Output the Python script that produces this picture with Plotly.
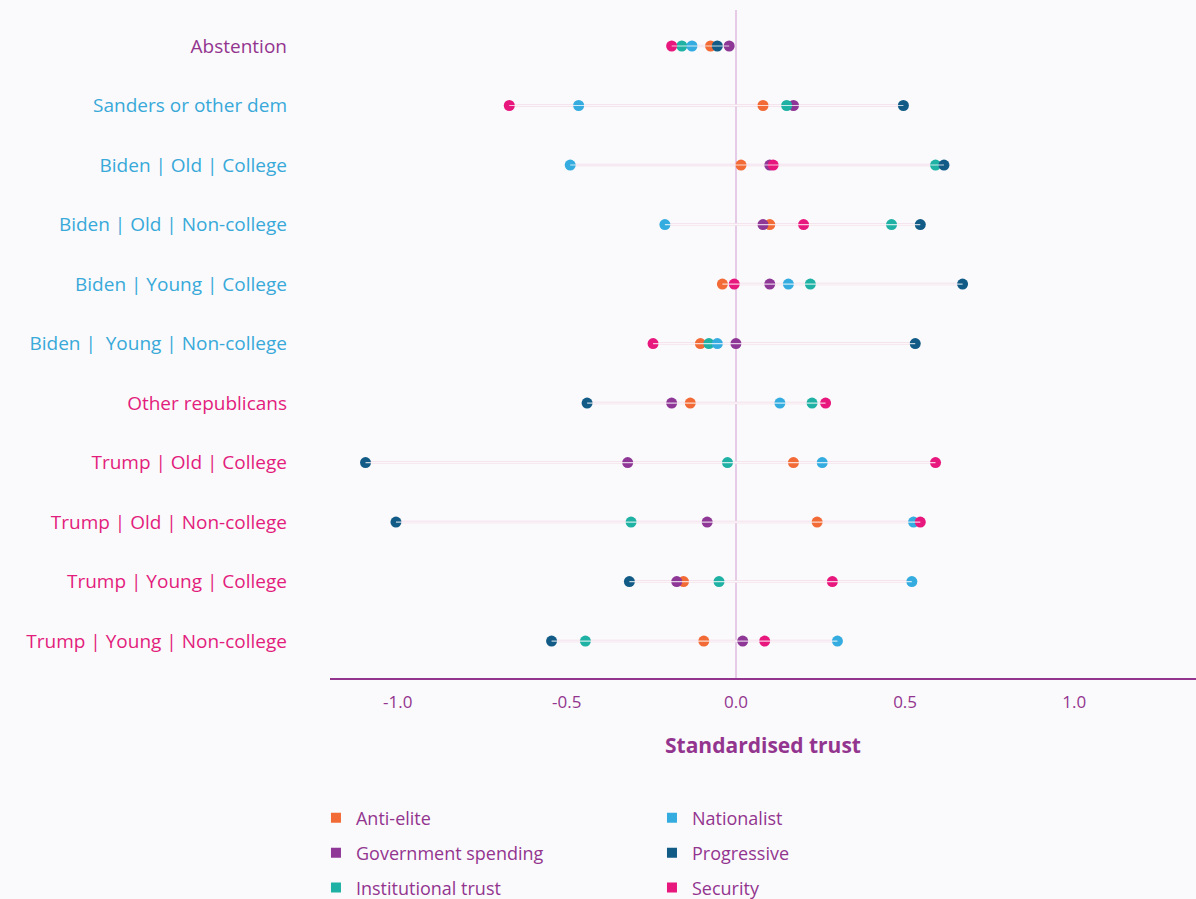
import plotly.graph_objects as go

# palette
ANTI_ELITE = "#f26a36"
GOV_SPEND = "#8e3796"
INST_TRUST = "#1fb1a4"
NATIONALIST = "#35acdf"
PROGRESSIVE = "#125b86"
SECURITY = "#e8177d"
LABEL_PURPLE = "#93358f"
LABEL_CYAN = "#38a9d9"
LABEL_MAGENTA = "#e31d7c"
BG = "#fafafc"
ZERO_LINE = "#e6cbe6"
CONNECTOR = "#f2dce8"

groups = [
    "Abstention",
    "Sanders or other dem",
    "Biden | Old | College",
    "Biden | Old | Non-college",
    "Biden | Young | College",
    "Biden |\u00a0 Young | Non-college",
    "Other republicans",
    "Trump | Old | College",
    "Trump | Old | Non-college",
    "Trump | Young | College",
    "Trump | Young | Non-college",
]
group_colors = [LABEL_PURPLE] + [LABEL_CYAN] * 5 + [LABEL_MAGENTA] * 5

anti_elite    = [-0.075, 0.08, 0.015, 0.10, -0.04, -0.105, -0.135, 0.17, 0.24, -0.155, -0.095]
gov_spending  = [-0.02, 0.17, 0.10, 0.08, 0.10, 0.0, -0.19, -0.32, -0.085, -0.175, 0.02]
inst_trust    = [-0.16, 0.15, 0.59, 0.46, 0.22, -0.08, 0.225, -0.025, -0.31, -0.05, -0.445]
nationalist   = [-0.13, -0.465, -0.49, -0.21, 0.155, -0.055, 0.13, 0.255, 0.525, 0.52, 0.30]
progressive   = [-0.055, 0.495, 0.615, 0.545, 0.67, 0.53, -0.44, -1.095, -1.005, -0.315, -0.545]
security      = [-0.19, -0.67, 0.11, 0.20, -0.005, -0.245, 0.265, 0.59, 0.545, 0.285, 0.085]

series = [
    ("Anti-elite", anti_elite, ANTI_ELITE, "legend"),
    ("Government spending", gov_spending, GOV_SPEND, "legend"),
    ("Institutional trust", inst_trust, INST_TRUST, "legend"),
    ("Nationalist", nationalist, NATIONALIST, "legend2"),
    ("Progressive", progressive, PROGRESSIVE, "legend2"),
    ("Security", security, SECURITY, "legend2"),
]

FONT = "'Open Sans', Arial, sans-serif"
rows = list(range(len(groups)))

fig = go.Figure()

# connector from min to max per row
cx, cy = [], []
for i in rows:
    vals = [s[1][i] for s in series]
    cx += [min(vals), max(vals), None]
    cy += [i, i, None]
fig.add_trace(go.Scatter(x=cx, y=cy, mode="lines", line=dict(color=CONNECTOR, width=2.5),
                         showlegend=False, hoverinfo="skip"))

for name, vals, color, leg in series:
    fig.add_trace(go.Scatter(
        x=vals, y=rows, mode="markers", name=name,
        marker=dict(color=color, size=11),
        showlegend=False,
    ))

# thin light stripe across the dots
fig.add_trace(go.Scatter(x=cx, y=cy, mode="lines", line=dict(color="rgba(255,255,255,0.75)", width=1.2),
                         showlegend=False, hoverinfo="skip"))

# legend entries (square swatches)
for name, vals, color, leg in series:
    fig.add_trace(go.Scatter(
        x=[None], y=[None], mode="markers", name=name,
        marker=dict(color=color, size=10, symbol="square"),
        legend=leg, legendgroup=name,
    ))

ticktext = [f"<span style='color:{c}'>{g}</span>" for g, c in zip(groups, group_colors)]

legend_common = dict(
    orientation="v", yanchor="top", xanchor="left",
    font=dict(family=FONT, size=18, color=LABEL_PURPLE),
    bgcolor="rgba(0,0,0,0)", tracegroupgap=8.5, itemwidth=30,
    itemclick=False, itemdoubleclick=False,
)

fig.update_layout(
    width=1196, height=899,
    paper_bgcolor=BG, plot_bgcolor=BG,
    font=dict(family=FONT, color=LABEL_PURPLE),
    margin=dict(l=330, r=0, t=10, b=221, autoexpand=False),
    xaxis=dict(
        range=[-1.2, 1.36], tickvals=[-1.0, -0.5, 0.0, 0.5, 1.0],
        ticktext=["-1.0", "-0.5", "0.0", "0.5", "1.0"],
        tickfont=dict(family=FONT, size=17, color=LABEL_PURPLE),
        showgrid=False, zeroline=True, zerolinecolor=ZERO_LINE, zerolinewidth=2,
        showline=True, linecolor=LABEL_PURPLE, linewidth=2, ticks="",
        ticklabelstandoff=8,
        title=dict(text="<b>Standardised trust</b>", font=dict(family=FONT, size=21, color=LABEL_PURPLE),
                   standoff=26),
    ),
    yaxis=dict(
        range=[10.62, -0.605], tickvals=rows, ticktext=ticktext,
        tickfont=dict(family=FONT, size=19),
        showgrid=False, zeroline=False, showline=False, ticks="",
        ticklabelstandoff=42,
    ),
    legend=dict(x=-0.0162, y=-0.182, **legend_common),
    legend2=dict(x=0.3718, y=-0.182, **legend_common),
)

# drop the default page margin so the figure sits at the window's corner
post = (
    "document.body.style.margin='0';"
    f"document.body.style.background='{BG}';"
)
fig.write_html("out.html", post_script=post, config={"displayModeBar": False})
